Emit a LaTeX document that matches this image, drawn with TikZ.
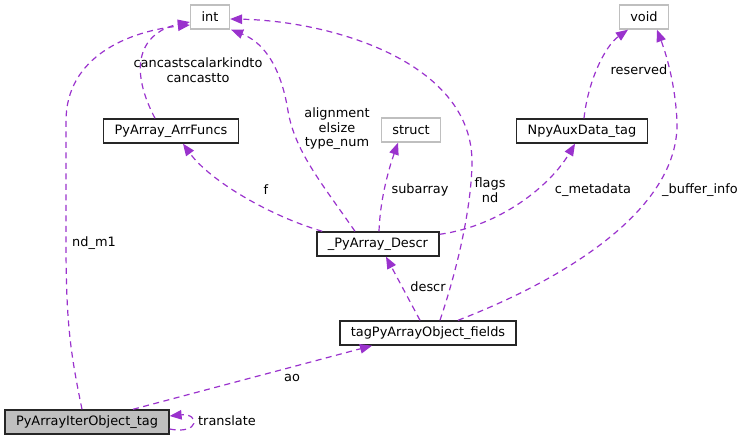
\documentclass[tikz,border=0pt]{standalone}
\usepackage{fontspec}
\setmainfont{DejaVu Sans}
\usetikzlibrary{arrows.meta,calc,positioning}
\definecolor{orchid}{HTML}{9A32CD}
\definecolor{ghost}{HTML}{BFBFBF}
\definecolor{shade}{HTML}{BFBFBF}

\begin{document}
\begin{tikzpicture}[x=1pt,y=1pt,>={Triangle[length=12pt,width=9.5pt]},
  font=\fontsize{12.9}{14.5}\selectfont,
  cls/.style={draw=black!85,line width=1.4pt,minimum height=24pt,inner xsep=11pt,inner ysep=0pt},
  ext/.style={cls,draw=ghost},
  dep/.style={->,orchid,line width=1.2pt,dash pattern=on 6pt off 4.5pt},
  lbl/.style={inner sep=0pt,align=center}]
\useasboundingbox (0,0) rectangle (745,441);
% ---------------- classes
\node[ext] (int) at (210,424) {int};
\node[ext] (void) at (644,424) {void};
\node[cls] (arrfuncs) at (171,310) {PyArray\_ArrFuncs};
\node[ext] (struct) at (411,311) {struct};
\node[cls] (auxdata) at (582,310) {NpyAuxData\_tag};
\node[cls] (descr) at (378,197) {\_PyArray\_Descr};
\node[cls] (fields) at (428,108) {tagPyArrayObject\_fields};
\node[cls,fill=shade] (iter) at (87,19) {PyArrayIterObject\_tag};

% ---------------- members pointing to int
\draw[dep] ($(arrfuncs.north)+(-16,0)$) .. controls (125,380) and (145,410) .. ($(int.west)+(0,-5)$);
\draw[dep] ($(iter.north)+(-5,0)$) .. controls (70,90) and (66,120) .. (66,200) -- (66,320)
    .. controls (66,385) and (130,410) .. ($(int.west)+(0,-8)$);
\draw[dep] ($(descr.north)+(-23,0)$) .. controls (320,260) and (295,290) .. (288,330)
    .. controls (280,380) and (260,400) .. ($(int.south east)+(1,0)$);
\draw[dep] ($(fields.north)+(12,0)$) .. controls (460,180) and (472,240) .. (472,281)
    .. controls (470,380) and (330,420) .. ($(int.east)+(0,-2)$);

% ---------------- the other members
\draw[dep] ($(descr.north west)+(6,0)$) .. controls (270,225) and (210,260) .. ($(arrfuncs.south)+(12,0)$);
\draw[dep] ($(descr.north)+(1,0)$) .. controls (380,240) and (388,270) .. ($(struct.south)+(-13,0)$);
\draw[dep] ($(descr.north east)+(0,-3)$) .. controls (500,215) and (550,255) .. ($(auxdata.south)+(-7,0)$);
\draw[dep] ($(auxdata.north)+(2,0)$) .. controls (588,360) and (605,395) .. ($(void.south)+(-16,0)$);
\draw[dep] ($(fields.north)+(30,0)$) .. controls (560,160) and (680,230) .. (677,320)
    .. controls (675,360) and (665,390) .. ($(void.south)+(13,0)$);
\draw[dep] ($(fields.north)+(-8,0)$) -- ($(descr.south)+(8,0)$);
\draw[dep] ($(iter.north)+(46,0)$) -- ($(fields.south)+(-56,0)$);
\draw[dep] ($(iter.east)+(0,-7)$) .. controls (200,6) and (200,28) .. ($(iter.east)+(0,6)$);

% ---------------- labels
\node[lbl] (l-cancast) at (198,371) {cancastscalarkindto\\cancastto};
\node[lbl,anchor=west] (l-ndm1) at (72,198) {nd\_m1};
\node[lbl] (l-align) at (337,312) {alignment\\elsize\\type\_num};
\node[lbl] (l-flags) at (490,251) {flags\\nd};
\node[lbl] (l-f) at (266,251) {f};
\node[lbl] (l-subarray) at (420,251) {subarray};
\node[lbl] (l-cmeta) at (593,251) {c\_metadata};
\node[lbl] (l-reserved) at (639,371) {reserved};
\node[lbl] (l-buffer) at (700,251) {\_buffer\_info};
\node[lbl] (l-descr) at (428,154) {descr};
\node[lbl] (l-ao) at (292,63) {ao};
\node[lbl] (l-translate) at (227,20) {translate};
\end{tikzpicture}
\end{document}
